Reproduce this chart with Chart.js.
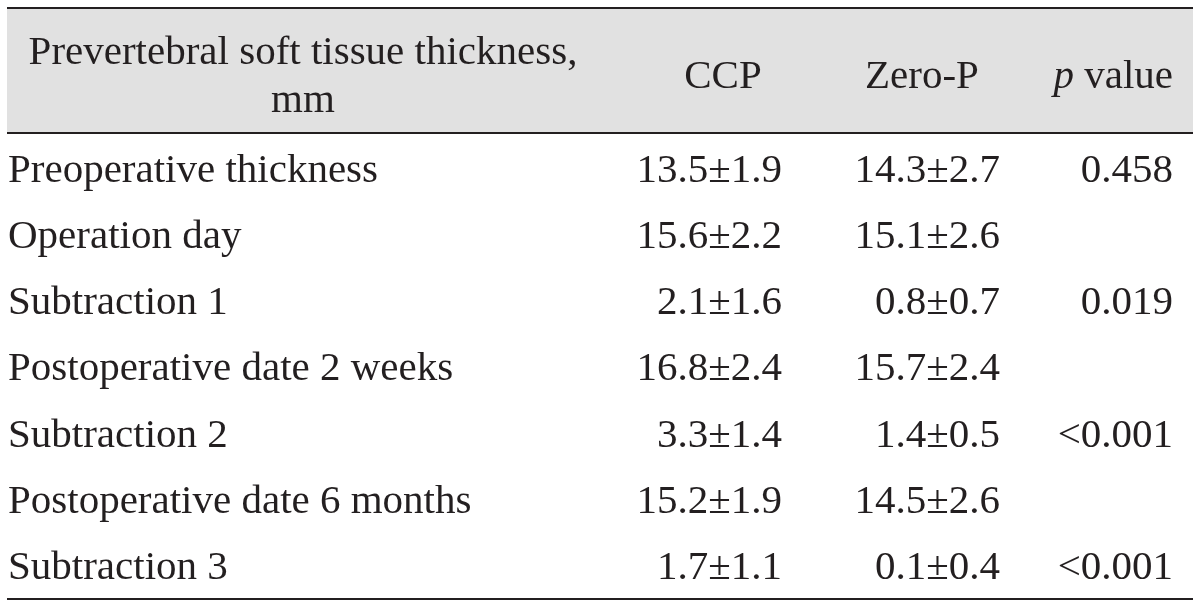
<!DOCTYPE html>
<html lang="en">
<head>
  <meta charset="UTF-8" />
  <title>Prevertebral soft tissue thickness</title>
  <style>
    body {
      margin: 0;
      padding: 0;
      background: #fff;
    }
    .wrap {
      width: 1200px;
      height: 609px;
      position: relative;
    }
  </style>
</head>
<body>
  <div class="wrap">
    <canvas id="tabla"></canvas>
  </div>

  <script src="https://cdn.jsdelivr.net/npm/chart.js"></script>
  <script>
    // table data
    const headerFirst = ['Prevertebral soft tissue thickness,', 'mm'];
    const headerCols = ['CCP', 'Zero-P', 'p value'];
    const rowLabels = [
      'Preoperative thickness',
      'Operation day',
      'Subtraction 1',
      'Postoperative date 2 weeks',
      'Subtraction 2',
      'Postoperative date 6 months',
      'Subtraction 3'
    ];
    const ccpValues = ['13.5±1.9', '15.6±2.2', '2.1±1.6', '16.8±2.4', '3.3±1.4', '15.2±1.9', '1.7±1.1'];
    const zeroPValues = ['14.3±2.7', '15.1±2.6', '0.8±0.7', '15.7±2.4', '1.4±0.5', '14.5±2.6', '0.1±0.4'];
    const pValues = ['0.458', '', '0.019', '', '<0.001', '', '<0.001'];

    // layout (x in pixels of the x scale, y in row units)
    const FONT = '"Liberation Serif", "DejaVu Serif", serif';
    const fontSize = 41;
    const colX = { label: 8, ccp: 782, zero: 1000, p: 1173 };
    const headCenter = { first: 303, ccp: 723, zero: 922 };
    const tableLeft = 7, tableRight = 1193;
    const rowStep = 66.2;
    const row0 = 170;
    const toRow = px => (px - row0) / rowStep;

    const columns = [
      { key: 'label', texts: rowLabels, align: 'left' },
      { key: 'ccp', texts: ccpValues, align: 'right' },
      { key: 'zero', texts: zeroPValues, align: 'right' },
      { key: 'p', texts: pValues, align: 'right' }
    ];

    const datasets = columns.map(c => ({
      label: c.key,
      data: c.texts.map((_, i) => ({ x: colX[c.key], y: i })),
      pointRadius: 0,
      showLine: false
    }));

    const tablePlugin = {
      id: 'tablePlugin',
      beforeDatasetsDraw(chart) {
        const ctx = chart.ctx;
        const x = chart.scales.x;
        const y = chart.scales.y;
        const left = x.getPixelForValue(tableLeft);
        const right = x.getPixelForValue(tableRight);
        ctx.save();
        // header background
        const top = y.getPixelForValue(toRow(8));
        const bottom = y.getPixelForValue(toRow(133));
        ctx.fillStyle = '#e1e1e1';
        ctx.fillRect(left, top, right - left, bottom - top);
        // rules
        ctx.strokeStyle = '#231f20';
        ctx.lineWidth = 2;
        [8, 133, 599].forEach(py => {
          const yy = y.getPixelForValue(toRow(py));
          ctx.beginPath();
          ctx.moveTo(left, yy);
          ctx.lineTo(right, yy);
          ctx.stroke();
        });
        ctx.restore();
      },
      afterDatasetsDraw(chart) {
        const ctx = chart.ctx;
        const x = chart.scales.x;
        const y = chart.scales.y;
        const off = fontSize * 0.29;
        ctx.save();
        ctx.fillStyle = '#231f20';
        ctx.textBaseline = 'alphabetic';
        ctx.font = fontSize + 'px ' + FONT;

        // header
        ctx.textAlign = 'center';
        ctx.fillText(headerFirst[0], x.getPixelForValue(headCenter.first), y.getPixelForValue(toRow(52)) + off);
        ctx.fillText(headerFirst[1], x.getPixelForValue(headCenter.first), y.getPixelForValue(toRow(100)) + off);
        const hy = y.getPixelForValue(toRow(76)) + off;
        ctx.fillText(headerCols[0], x.getPixelForValue(headCenter.ccp), hy);
        ctx.fillText(headerCols[1], x.getPixelForValue(headCenter.zero), hy);
        // "p value" with italic p, right aligned
        ctx.textAlign = 'left';
        const rest = headerCols[2].slice(1);
        const wRest = ctx.measureText(rest).width;
        ctx.font = 'italic ' + fontSize + 'px ' + FONT;
        const wP = ctx.measureText('p').width;
        const startX = x.getPixelForValue(colX.p) - wRest - wP;
        ctx.fillText('p', startX, hy);
        ctx.font = fontSize + 'px ' + FONT;
        ctx.fillText(rest, startX + wP, hy);

        // body cells from dataset points
        chart.data.datasets.forEach((ds, di) => {
          const col = columns[di];
          ctx.textAlign = col.align;
          chart.getDatasetMeta(di).data.forEach((pt, i) => {
            const t = col.texts[i];
            if (t) ctx.fillText(t, pt.x, pt.y + off);
          });
        });
        ctx.restore();
      }
    };

    new Chart(document.getElementById('tabla'), {
      type: 'scatter',
      data: { datasets: datasets },
      options: {
        responsive: true,
        maintainAspectRatio: false,
        animation: false,
        layout: { padding: 0 },
        plugins: { legend: { display: false }, tooltip: { enabled: false } },
        scales: {
          x: { type: 'linear', min: 0, max: 1200, display: false },
          y: { type: 'linear', min: toRow(0), max: toRow(609), reverse: true, display: false }
        }
      },
      plugins: [tablePlugin]
    });
  </script>
</body>
</html>
